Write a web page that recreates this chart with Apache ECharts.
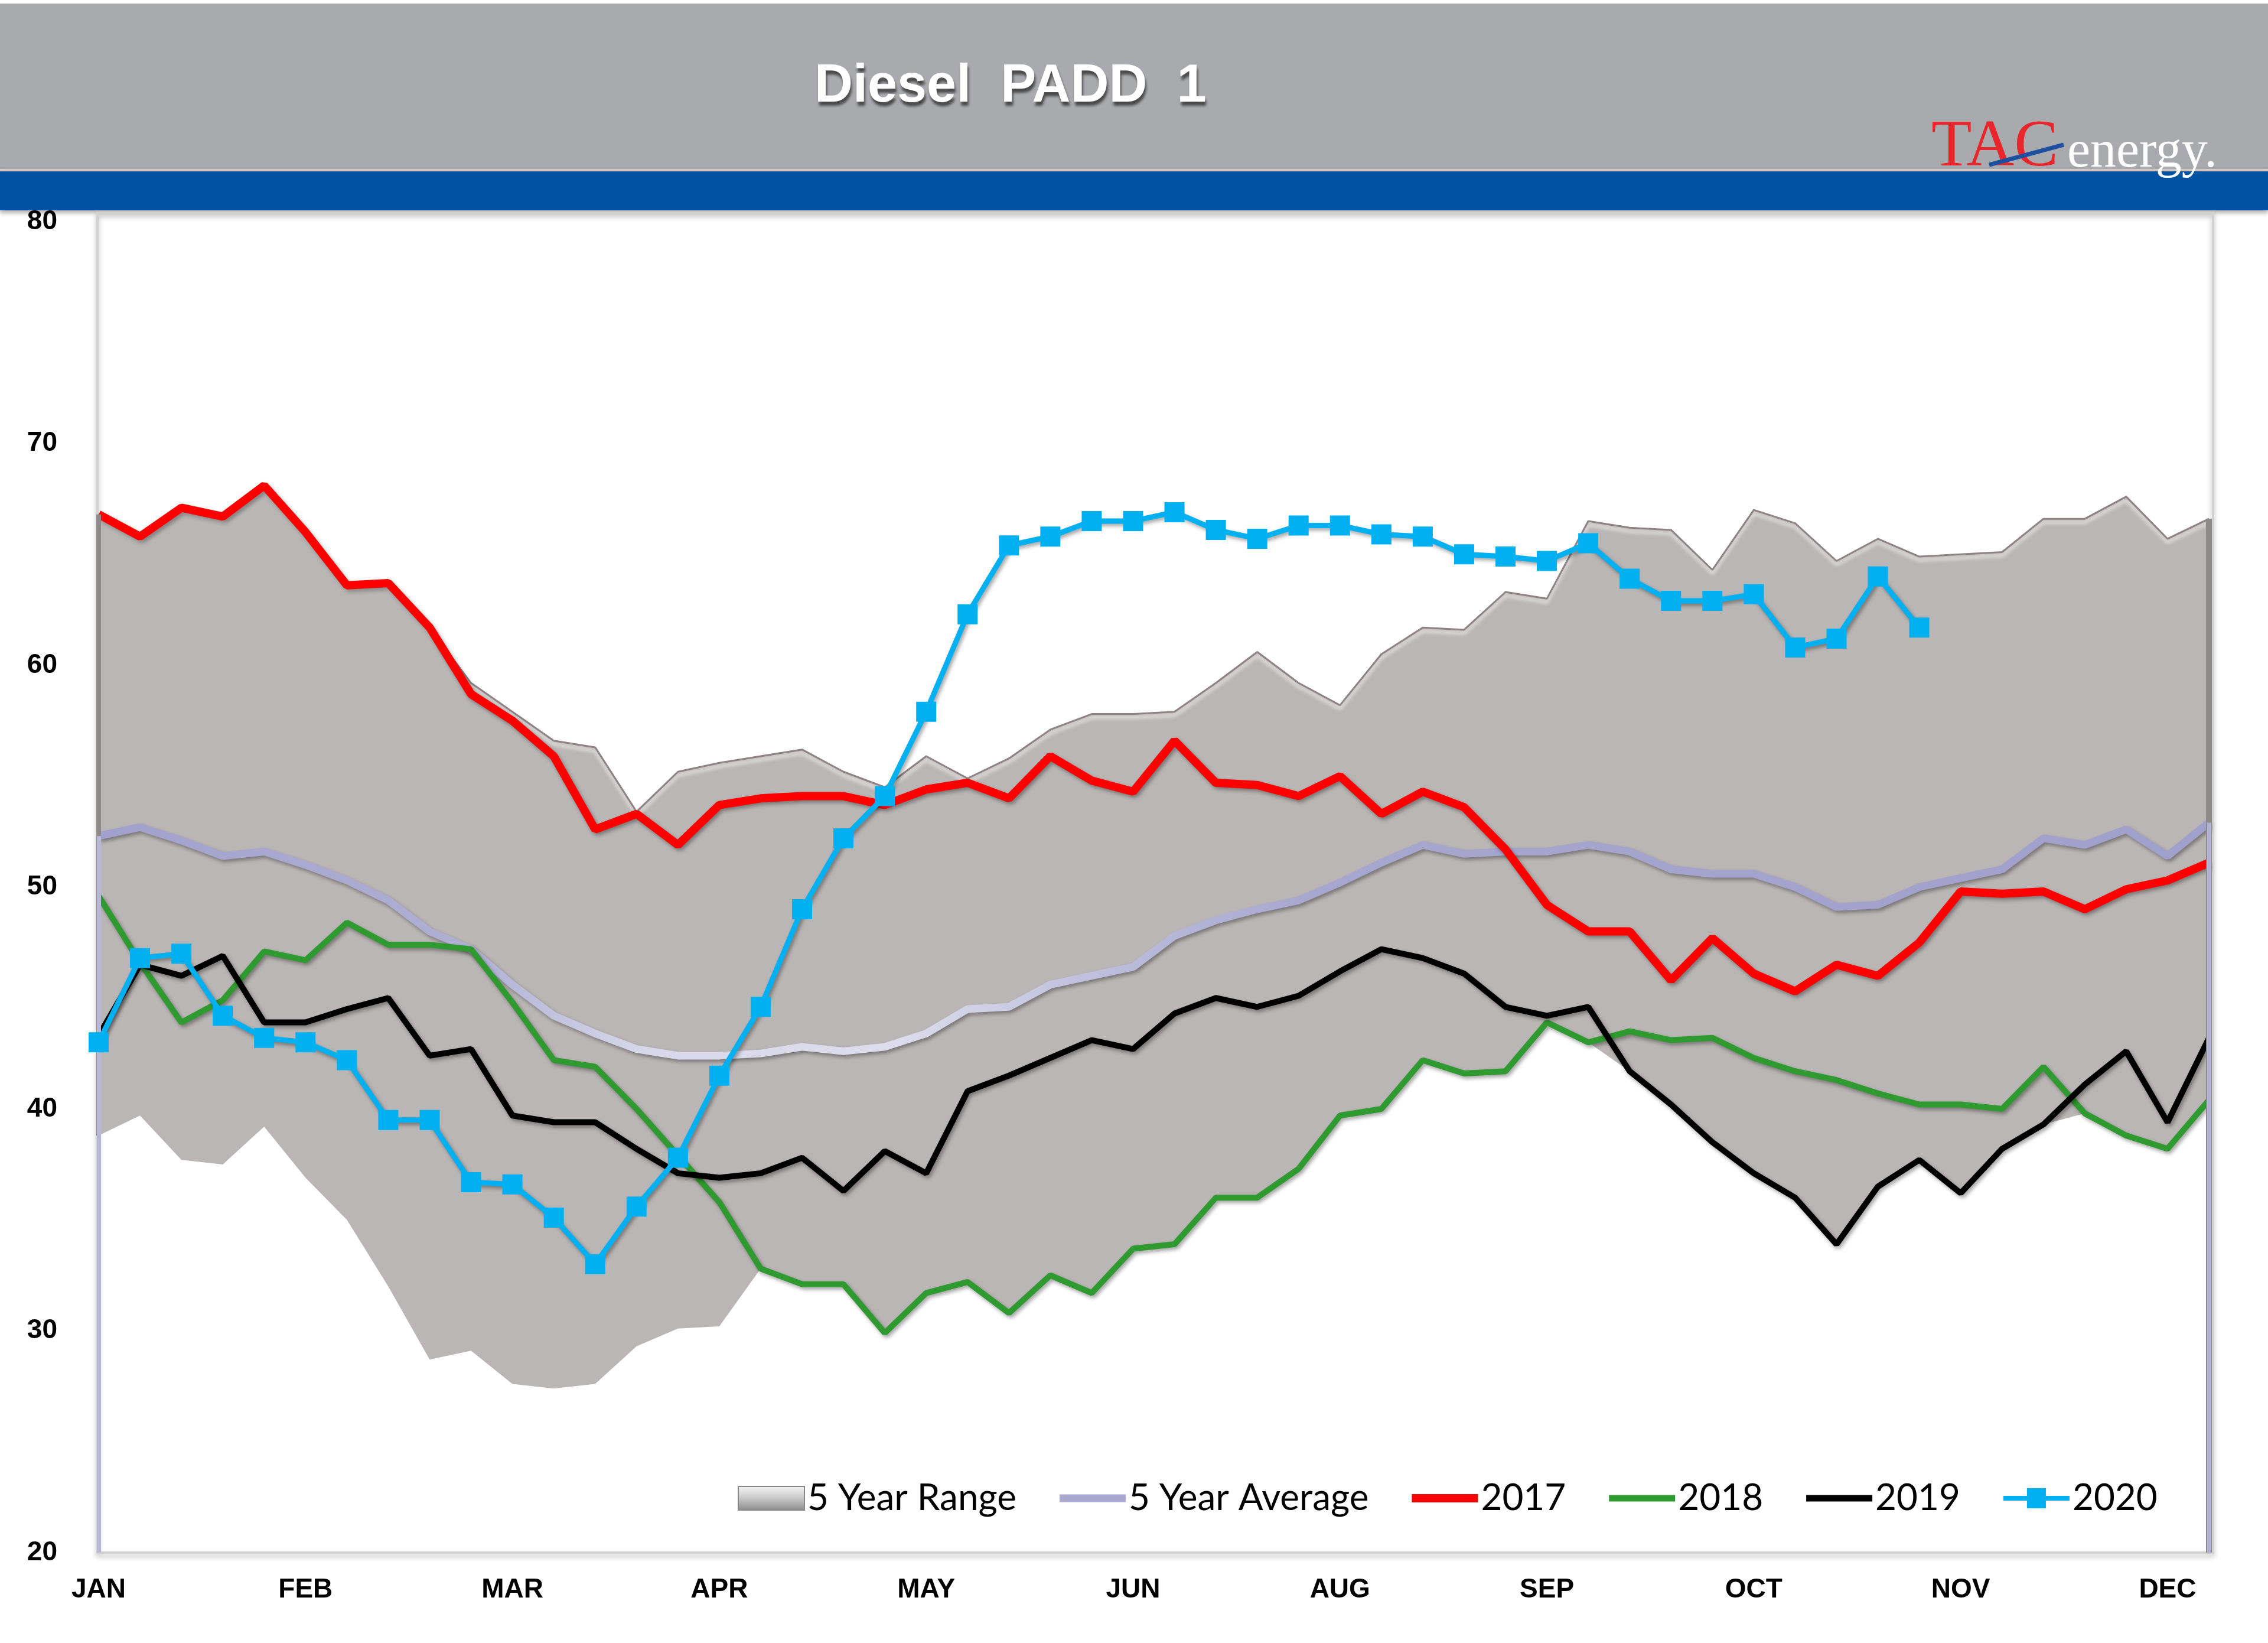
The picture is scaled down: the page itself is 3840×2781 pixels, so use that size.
<!DOCTYPE html>
<html><head><meta charset="utf-8">
<script src="https://cdn.jsdelivr.net/npm/echarts@6/dist/echarts.min.js"></script>
<style>html,body{margin:0;padding:0;background:#fff}#c{width:3840px;height:2781px}</style>
</head><body><div id="c"></div>
<script>
const weeks = ['W1','W2','W3','W4','W5','W6','W7','W8','W9','W10','W11','W12','W13','W14','W15','W16','W17','W18','W19','W20','W21','W22','W23','W24','W25','W26','W27','W28','W29','W30','W31','W32','W33','W34','W35','W36','W37','W38','W39','W40','W41','W42','W43','W44','W45','W46','W47','W48','W49','W50','W51','W52'];
const monthLabels = ['JAN','FEB','MAR','APR','MAY','JUN','AUG','SEP','OCT','NOV','DEC'];
const yTicks = [20,30,40,50,60,70,80];

const rangeHigh = [66.8,65.8,67.1,66.7,68.1,66.0,63.6,63.7,61.7,59.2,
  57.9,56.6,56.3,53.4,55.2,55.6,55.9,56.2,55.2,54.5,
  55.9,54.9,55.8,57.1,57.8,57.8,57.9,59.2,60.6,59.2,
  58.2,60.5,61.7,61.6,63.3,63.0,66.5,66.2,66.1,64.3,
  67.0,66.4,64.7,65.7,64.9,65.0,65.1,66.6,66.6,67.6,
  65.7,66.6];
const rangeLow = [38.8,39.7,37.7,37.5,39.2,36.9,35.0,32.0,28.7,29.1,
  27.6,27.4,27.6,29.3,30.1,30.2,32.8,32.1,32.1,29.9,
  31.7,32.2,30.8,32.5,31.7,33.7,33.9,36.0,36.0,37.3,
  39.7,40.0,42.2,41.6,41.7,43.9,43.0,41.7,40.2,38.5,
  37.1,36.0,33.9,36.5,37.7,36.2,38.2,39.3,39.8,38.8,
  38.2,40.4];
const avg5 = [52.3,52.7,52.1,51.4,51.6,51.0,50.3,49.4,48.0,47.2,
  45.6,44.2,43.4,42.7,42.4,42.4,42.5,42.8,42.6,42.8,
  43.4,44.5,44.6,45.6,46.0,46.4,47.8,48.5,49.0,49.4,
  50.2,51.1,51.9,51.5,51.6,51.6,51.9,51.6,50.8,50.6,
  50.6,50.0,49.1,49.2,50.0,50.4,50.8,52.2,51.9,52.6,
  51.4,52.9];
const y2017 = [66.8,65.8,67.1,66.7,68.1,66.0,63.6,63.7,61.7,58.7,
  57.5,55.9,52.6,53.3,51.9,53.7,54.0,54.1,54.1,53.7,
  54.4,54.7,54.0,55.9,54.8,54.3,56.6,54.7,54.6,54.1,
  55.0,53.3,54.3,53.6,51.7,49.2,48.0,48.0,45.8,47.7,
  46.1,45.3,46.5,46.0,47.5,49.8,49.7,49.8,49.0,49.9,
  50.3,51.1];
const y2018 = [49.6,46.6,43.9,44.9,47.1,46.7,48.4,47.4,47.4,47.2,
  44.8,42.2,41.9,40.0,37.9,35.8,32.8,32.1,32.1,29.9,
  31.7,32.2,30.8,32.5,31.7,33.7,33.9,36.0,36.0,37.3,
  39.7,40.0,42.2,41.6,41.7,43.9,43.0,43.5,43.1,43.2,
  42.3,41.7,41.3,40.7,40.2,40.2,40.0,41.9,39.8,38.8,
  38.2,40.4];
const y2019 = [43.3,46.5,46.0,46.9,43.9,43.9,44.5,45.0,42.4,42.7,
  39.7,39.4,39.4,38.2,37.1,36.9,37.1,37.8,36.3,38.1,
  37.1,40.8,41.5,42.3,43.1,42.7,44.3,45.0,44.6,45.1,
  46.2,47.2,46.8,46.1,44.6,44.2,44.6,41.7,40.2,38.5,
  37.1,36.0,33.9,36.5,37.7,36.2,38.2,39.3,41.1,42.6,
  39.4,43.2];
const y2020 = [43.0,46.8,47.0,44.2,43.2,43.0,42.2,39.5,39.5,36.7,
  36.6,35.1,33.0,35.6,37.8,41.5,44.6,49.0,52.2,54.1,
  57.9,62.3,65.4,65.8,66.5,66.5,66.9,66.1,65.7,66.3,
  66.3,65.9,65.8,65.0,64.9,64.7,65.5,63.9,62.9,62.9,
  63.2,60.8,61.2,64.0,61.7,null,null,null,null,null,
  null,null];

const rangeBand = rangeHigh.map((v, i) => +(v - rangeLow[i]).toFixed(2));
const last = weeks.length - 1;

const lineShadow = {shadowColor:'rgba(0,0,0,0.35)', shadowBlur:6, shadowOffsetX:3, shadowOffsetY:4};
const avgGradient = new echarts.graphic.LinearGradient(0,0,1,0,[
  {offset:0, color:'#a0a0cc'},{offset:0.18, color:'#b0b0d4'},{offset:0.26, color:'#d8d8ea'},
  {offset:0.38, color:'#dcdcec'},{offset:0.48, color:'#bcbcdc'},{offset:0.58, color:'#a6a6ce'},
  {offset:1, color:'#a0a0cc'}]);

const chart = echarts.init(document.getElementById('c'));
chart.setOption({
  animation: false,
  backgroundColor: '#ffffff',
  graphic: [
    {type:'rect', z:0, shape:{x:0, y:6, width:3840, height:282}, style:{fill:'#a9aaad'}},
    {type:'rect', z:0, shape:{x:0, y:286, width:3840, height:4}, style:{fill:'#d6cccc'}},
    {type:'rect', z:0, shape:{x:0, y:290, width:3840, height:66}, style:{fill:'#0153a1', shadowColor:'rgba(0,0,0,0.35)', shadowBlur:8, shadowOffsetY:4}},
    {type:'text', z:10, x:1379, y:147, style:{text:'Diesel  PADD  1', fill:'#ffffff', font:'bold 90px "Liberation Sans", Arial, sans-serif', verticalAlign:'middle', align:'left', textShadowColor:'rgba(40,40,40,0.75)', textShadowBlur:4, textShadowOffsetX:2, textShadowOffsetY:7}},
    {type:'text', z:10, x:3270, y:251, style:{text:'TAC', fill:'#e8262c', font:'112px "Liberation Serif", "Times New Roman", serif', verticalAlign:'middle', align:'left'}},
    {type:'line', z:11, shape:{x1:3368, y1:279, x2:3494, y2:245}, style:{stroke:'#1f4fa0', lineWidth:7}},
    {type:'text', z:10, x:3500, y:259, style:{text:'energy.', fill:'#ffffff', font:'88px "Liberation Serif", "Times New Roman", serif', verticalAlign:'middle', align:'left'}},
    {type:'rect', z:0, shape:{x:165, y:360, width:3582, height:2268}, style:{fill:'none', stroke:'#d2d2d2', lineWidth:4, shadowColor:'rgba(0,0,0,0.3)', shadowBlur:8, shadowOffsetY:5}}
  ],
  grid: {left:167, right:100, top:375, bottom:153, containLabel:false},
  legend: {
    left: 1244, top: 2500, itemWidth: 112, itemHeight: 40, itemGap: 73,
    textStyle: {fontFamily:'Lato, "Liberation Sans", sans-serif', fontSize:62, color:'#000'},
    data: [
      {name:'5 Year Range', icon:'rect', itemStyle:{color:new echarts.graphic.LinearGradient(0,0,0,1,[{offset:0,color:'#f4f4f4'},{offset:0.5,color:'#c8c8c8'},{offset:1,color:'#8c8c8c'}]), borderColor:'#888', borderWidth:2}},
      {name:'5 Year Average', icon:'path://M0,0H112V13H0Z', itemStyle:{color:'#a8a8d0'}},
      {name:'2017', icon:'path://M0,0H112V14H0Z', itemStyle:{color:'#ff0000'}},
      {name:'2018', icon:'path://M0,0H112V11H0Z', itemStyle:{color:'#2f9a2f'}},
      {name:'2019', icon:'path://M0,0H112V11H0Z', itemStyle:{color:'#000000'}},
      {name:'2020', icon:'path://M0,16H112V24H0Z M40,3H72V37H40Z', itemStyle:{color:'#00b0f0'}}]
  },
  xAxis: {
    type:'category', data: weeks, boundaryGap:false,
    axisLine:{show:false}, axisTick:{show:false}, splitLine:{show:false},
    axisLabel:{interval:4, margin:40, color:'#000', fontWeight:'bold', fontSize:46, fontFamily:'"Liberation Sans", Arial, sans-serif',
      formatter:(v, i) => monthLabels[Math.round(i/5)] || ''}
  },
  yAxis: {
    type:'value', min:yTicks[0], max:yTicks[yTicks.length-1], interval:10,
    axisLine:{show:false}, axisTick:{show:false}, splitLine:{show:false},
    axisLabel:{margin:70, color:'#000', fontWeight:'bold', fontSize:46, fontFamily:'"Liberation Sans", Arial, sans-serif'}
  },
  series: [
    {name:'rangeBase', type:'line', data:rangeLow, stack:'range', symbol:'none', silent:true,
      lineStyle:{opacity:0}, z:1},
    {name:'5 Year Range', type:'line', data:rangeBand, stack:'range', symbol:'none', silent:true, z:1,
      areaStyle:{color:'#bab6b5', opacity:1},
      lineStyle:{color:'#8e8284', width:3, shadowColor:'rgba(255,255,255,0.95)', shadowBlur:6, shadowOffsetY:6},
      itemStyle:{color:'#bab6b5'}},
    {name:'5 Year Average', type:'line', data:avg5, symbol:'none', z:3,
      lineStyle:Object.assign({color:avgGradient, width:13}, lineShadow),
      itemStyle:{color:'#a4a4cc'},
      markLine:{silent:true, symbol:'none', label:{show:false}, animation:false,
        data:[
          [{coord:[weeks[0], rangeLow[0]], lineStyle:{color:'#8e8a8a', width:8, type:'solid'}}, {coord:[weeks[0], rangeHigh[0]]}],
          [{coord:[weeks[last], yTicks[0]], lineStyle:{color:'#8e8a8a', width:10, type:'solid'}}, {coord:[weeks[last], rangeHigh[last]]}],
          [{coord:[weeks[0], yTicks[0]], lineStyle:{color:'#b8b8d6', width:7, type:'solid'}}, {coord:[weeks[0], avg5[0]]}],
          [{coord:[weeks[last], yTicks[0]], lineStyle:{color:'#b0b0d4', width:7, type:'solid'}}, {coord:[weeks[last], avg5[last]]}]
        ]}},
    {name:'2017', type:'line', data:y2017, symbol:'none', z:4,
      lineStyle:Object.assign({color:'#ff0000', width:14}, lineShadow), itemStyle:{color:'#ff0000'}},
    {name:'2018', type:'line', data:y2018, symbol:'none', z:4,
      lineStyle:Object.assign({color:'#2f9a2f', width:10}, lineShadow), itemStyle:{color:'#2f9a2f'}},
    {name:'2019', type:'line', data:y2019, symbol:'none', z:4,
      lineStyle:Object.assign({color:'#000000', width:10}, lineShadow), itemStyle:{color:'#000000'}},
    {name:'2020', type:'line', data:y2020, symbol:'rect', symbolSize:34, showSymbol:true, z:5,
      lineStyle:Object.assign({color:'#00b0f0', width:9}, lineShadow), itemStyle:{color:'#00b0f0'}}
  ]
});
</script>
</body></html>
